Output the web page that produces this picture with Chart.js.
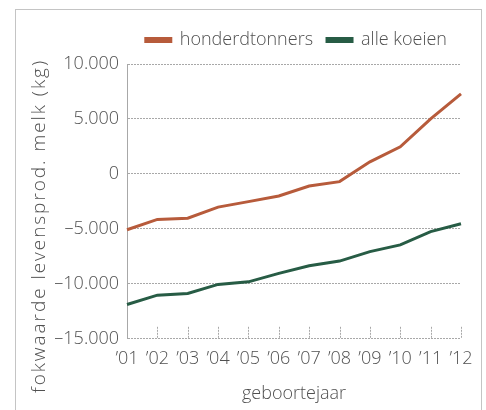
<!DOCTYPE html>
<html>
<head>
<meta charset="utf-8">
<script src="https://cdn.jsdelivr.net/npm/chart.js@4"></script>
<style>
  html, body { margin:0; padding:0; background:#fff; }
  #wrap { position:relative; width:486px; height:410px; overflow:hidden; }
  #frame { position:absolute; left:15px; top:9px; width:467px; height:420px; border:1px solid #c4c4c4; box-sizing:border-box; }
  canvas { position:absolute; left:0; top:0; }
</style>
</head>
<body>
<div id="wrap">
  <div id="frame"></div>
  <canvas id="c" width="486" height="410"></canvas>
</div>
<script>
const categories = ["’01","’02","’03","’04","’05","’06","’07","’08","’09","’10","’11","’12"];
const honderdtonners = [-5080, -4140, -4030, -3020, -2520, -2010, -1100, -700, 1100, 2470, 5000, 7290];
const alleKoeien = [-11880, -11030, -10880, -10050, -9820, -9050, -8350, -7930, -7070, -6460, -5250, -4540];
const yTickValues = [10000, 5000, 0, -5000, -10000, -15000];
const yTickLabels = ["10.000", "5.000", "0", "–5.000", "–10.000", "–15.000"];
const seriesNames = ["honderdtonners", "alle koeien"];
const yTitle = "fokwaarde levensprod. melk (kg)";
const xTitle = "geboortejaar";

const FONT = "'Open Sans', 'Liberation Sans', sans-serif";
const FS = 18;
const TXT = "#505050";
const GRID = "#a8a8a8";
const ORANGE = "#b75b3b";
const GREEN = "#275c45";

const innerTicks = {
  id: 'innerTicks',
  beforeDatasetsDraw(chart) {
    const x = chart.scales.x, ctx = chart.ctx, b = chart.chartArea.bottom;
    ctx.save();
    ctx.strokeStyle = GRID; ctx.lineWidth = 1; ctx.setLineDash([2, 1]);
    for (let i = 1; i < categories.length; i++) {
      const px = Math.round(x.getPixelForTick(i)) + 0.5;
      ctx.beginPath(); ctx.moveTo(px, b - 12); ctx.lineTo(px, b); ctx.stroke();
    }
    ctx.restore();
  }
};
const yTitlePlugin = {
  id: 'yTitlePlugin',
  afterDraw(chart) {
    const ctx = chart.ctx;
    ctx.save();
    ctx.translate(40, 226);
    ctx.rotate(-Math.PI / 2);
    ctx.font = "300 19px " + FONT;
    const w = ctx.measureText(yTitle).width;
    const target = 332;
    if (w < target && 'letterSpacing' in ctx) {
      ctx.letterSpacing = ((target - w) / (yTitle.length - 1)).toFixed(2) + 'px';
    }
    ctx.fillStyle = TXT; ctx.textAlign = 'center'; ctx.textBaseline = 'middle';
    ctx.fillText(yTitle, 0, 0);
    ctx.restore();
  }
};
const legendGap = {
  id: 'legendGap',
  beforeLayout(chart) {
    const lg = chart.legend;
    if (lg && !lg._gapPatched) {
      const f = lg.fit.bind(lg);
      lg.fit = function () { f(); this.height += 5; };
      lg._gapPatched = true;
    }
  }
};

new Chart(document.getElementById('c'), {
  type: 'line',
  data: {
    labels: categories,
    datasets: [
      { label: seriesNames[0], data: honderdtonners, borderColor: ORANGE, backgroundColor: ORANGE, borderWidth: 3, pointRadius: 0, tension: 0 },
      { label: seriesNames[1], data: alleKoeien, borderColor: GREEN, backgroundColor: GREEN, borderWidth: 3, pointRadius: 0, tension: 0 }
    ]
  },
  options: {
    responsive: false,
    animation: false,
    devicePixelRatio: 1,
    layout: { padding: { left: 0, right: 25, top: 17, bottom: 5 } },
    plugins: {
      legend: {
        display: true, position: 'top', align: 'end',
        labels: {
          boxWidth: 25, boxHeight: 3, padding: 14,
          color: TXT, font: { family: FONT, size: FS, weight: '300' }
        }
      },
      tooltip: { enabled: false }
    },
    scales: {
      x: {
        offset: false,
        grid: { display: false, drawOnChartArea: false, drawTicks: false },
        border: { display: false },
        ticks: { color: TXT, padding: 9, maxRotation: 0, autoSkip: false, font: { family: FONT, size: FS, weight: '300' } },
        title: { display: true, text: xTitle, color: TXT, padding: { top: 5, bottom: 0 }, font: { family: FONT, size: FS, weight: '300' } }
      },
      y: {
        min: -15000, max: 10000,
        afterBuildTicks(scale) { scale.ticks = yTickValues.map(v => ({ value: v })); },
        afterFit(scale) { scale.width = 127; },
        grid: { color: GRID, drawTicks: false, lineWidth: 1 },
        border: { display: true, color: GRID, dash: [2, 1], width: 1 },
        ticks: {
          color: TXT, padding: 8, font: { family: FONT, size: FS, weight: '300' },
          callback(v) { const i = yTickValues.indexOf(v); return i >= 0 ? yTickLabels[i] : ''; }
        }
      }
    },
    elements: { line: { borderCapStyle: 'butt' } }
  },
  plugins: [innerTicks, yTitlePlugin, legendGap]
});
</script>
</body>
</html>
